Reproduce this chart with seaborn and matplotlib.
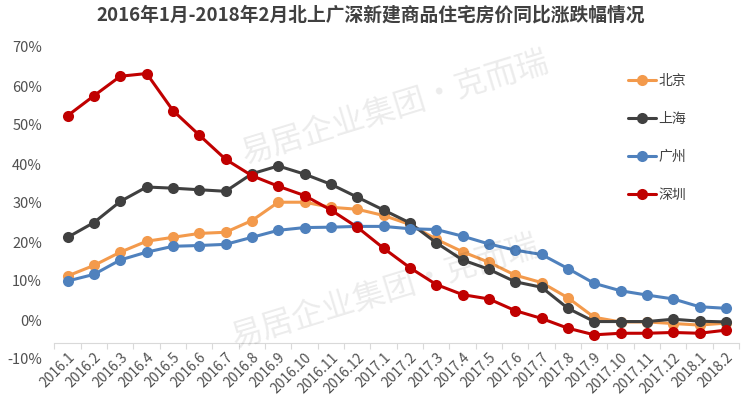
import matplotlib
matplotlib.use("Agg")
import matplotlib.pyplot as plt
import seaborn as sns
import pandas as pd
import numpy as np
from matplotlib.ticker import FixedLocator, FuncFormatter
from matplotlib.lines import Line2D

months = ["2016.1", "2016.2", "2016.3", "2016.4", "2016.5", "2016.6", "2016.7", "2016.8",
          "2016.9", "2016.10", "2016.11", "2016.12", "2017.1", "2017.2", "2017.3", "2017.4",
          "2017.5", "2017.6", "2017.7", "2017.8", "2017.9", "2017.10", "2017.11", "2017.12",
          "2018.1", "2018.2"]

beijing = [11.3, 14.0, 17.4, 20.2, 21.2, 22.2, 22.5, 25.5, 30.2, 30.2, 28.9, 28.4, 26.8,
           24.5, 20.7, 17.5, 14.8, 11.5, 9.6, 5.7, 0.7, -0.5, -0.5, -0.9, -1.3, -0.8]
shanghai = [21.2, 25.0, 30.4, 34.1, 33.8, 33.4, 33.0, 37.5, 39.5, 37.4, 34.8, 31.5, 28.2,
            24.9, 19.8, 15.4, 13.0, 9.8, 8.4, 3.0, -0.4, -0.4, -0.4, 0.2, -0.3, -0.5]
guangzhou = [10.0, 11.7, 15.4, 17.4, 18.9, 19.1, 19.4, 21.2, 23.0, 23.7, 23.8, 24.0, 24.0,
             23.4, 23.2, 21.5, 19.5, 17.9, 16.8, 13.2, 9.4, 7.5, 6.4, 5.4, 3.4, 3.0]
shenzhen = [52.4, 57.5, 62.5, 63.2, 53.7, 47.4, 41.2, 37.0, 34.3, 31.9, 28.2, 23.8, 18.4,
            13.4, 9.1, 6.5, 5.4, 2.4, 0.4, -2.1, -3.8, -3.4, -3.4, -3.2, -3.4, -2.6]

cities = ["北京", "上海", "广州", "深圳"]
series = [beijing, shanghai, guangzhou, shenzhen]
colors = ["#F39A4C", "#404040", "#4F81BD", "#C00000"]
yticks = [-10, 0, 10, 20, 30, 40, 50, 60, 70]
title = "2016年1月-2018年2月北上广深新建商品住宅房价同比涨跌幅情况"
watermark = "易居企业集团·克而瑞"

rows = []
for c, vals in zip(cities, series):
    for i, v in enumerate(vals):
        rows.append({"idx": i, "value": v, "city": c})
df = pd.DataFrame(rows)

sns.set_theme(style="white")
plt.rcParams["font.family"] = ["Noto Sans CJK SC", "DejaVu Sans"]

fig = plt.figure(figsize=(7.42, 4.09), dpi=100)
ax = fig.add_axes([54.5 / 742, 1 - 359 / 409, (739 - 54.5) / 742, (359 - 47) / 409])

# watermark
for (cx, cy) in [(395, 108), (385, 292)]:
    fig.text(cx / 742, 1 - cy / 409, watermark, fontsize=23, color="#000000", alpha=0.08,
             rotation=17, ha="center", va="center", zorder=0)

sns.lineplot(data=df, x="idx", y="value", hue="city", hue_order=cities,
             palette=dict(zip(cities, colors)), marker="o", markersize=8,
             markeredgewidth=0, linewidth=2.2, ax=ax, legend=False, sort=False)

for s in ["top", "right", "left"]:
    ax.spines[s].set_visible(False)
ax.spines["bottom"].set_position(("data", -6))
ax.spines["bottom"].set_color("#D9D9D9")
ax.spines["bottom"].set_linewidth(0.8)

ax.set_xlim(-0.5, 25.5)
ax.set_ylim(-10, 70)
ax.set_yticks(yticks)
ax.yaxis.set_major_formatter(FuncFormatter(lambda v, p: f"{int(v)}%"))
ax.tick_params(axis="y", length=0, pad=9, labelsize=10.5, labelcolor="#505050")

ax.tick_params(axis="x", which="major", length=0, pad=5, labelsize=10, labelcolor="#505050")
ax.tick_params(axis="x", which="minor", length=4, width=0.8, color="#D9D9D9", direction="out", bottom=True)
ax.set_xticks(range(len(months)))
ax.set_xticklabels(months)
for lab in ax.get_xticklabels():
    lab.set_rotation(45)
    lab.set_ha("right")
    lab.set_va("top")
    lab.set_rotation_mode("anchor")
ax.xaxis.set_minor_locator(FixedLocator(np.arange(-0.5, 26, 1)))
ax.set_xlabel("")
ax.set_ylabel("")
ax.patch.set_alpha(0)

handles = [Line2D([0], [0], color=col, lw=2.2, marker="o", markersize=8, markeredgewidth=0)
           for col in colors]
leg = fig.legend(handles, cities, loc="upper left", bbox_to_anchor=(628 / 742, 1 - 74 / 409),
                 frameon=False, fontsize=10, handlelength=2.0, handletextpad=0.2,
                 labelspacing=1.72, borderaxespad=0, borderpad=0)
for t in leg.get_texts():
    t.set_color("#404040")

fig.text(371 / 742, 1 - 15 / 409, title, ha="center", va="center", fontsize=13.5,
         fontweight="bold", color="#404040")

fig.savefig("out.png", dpi=100)
